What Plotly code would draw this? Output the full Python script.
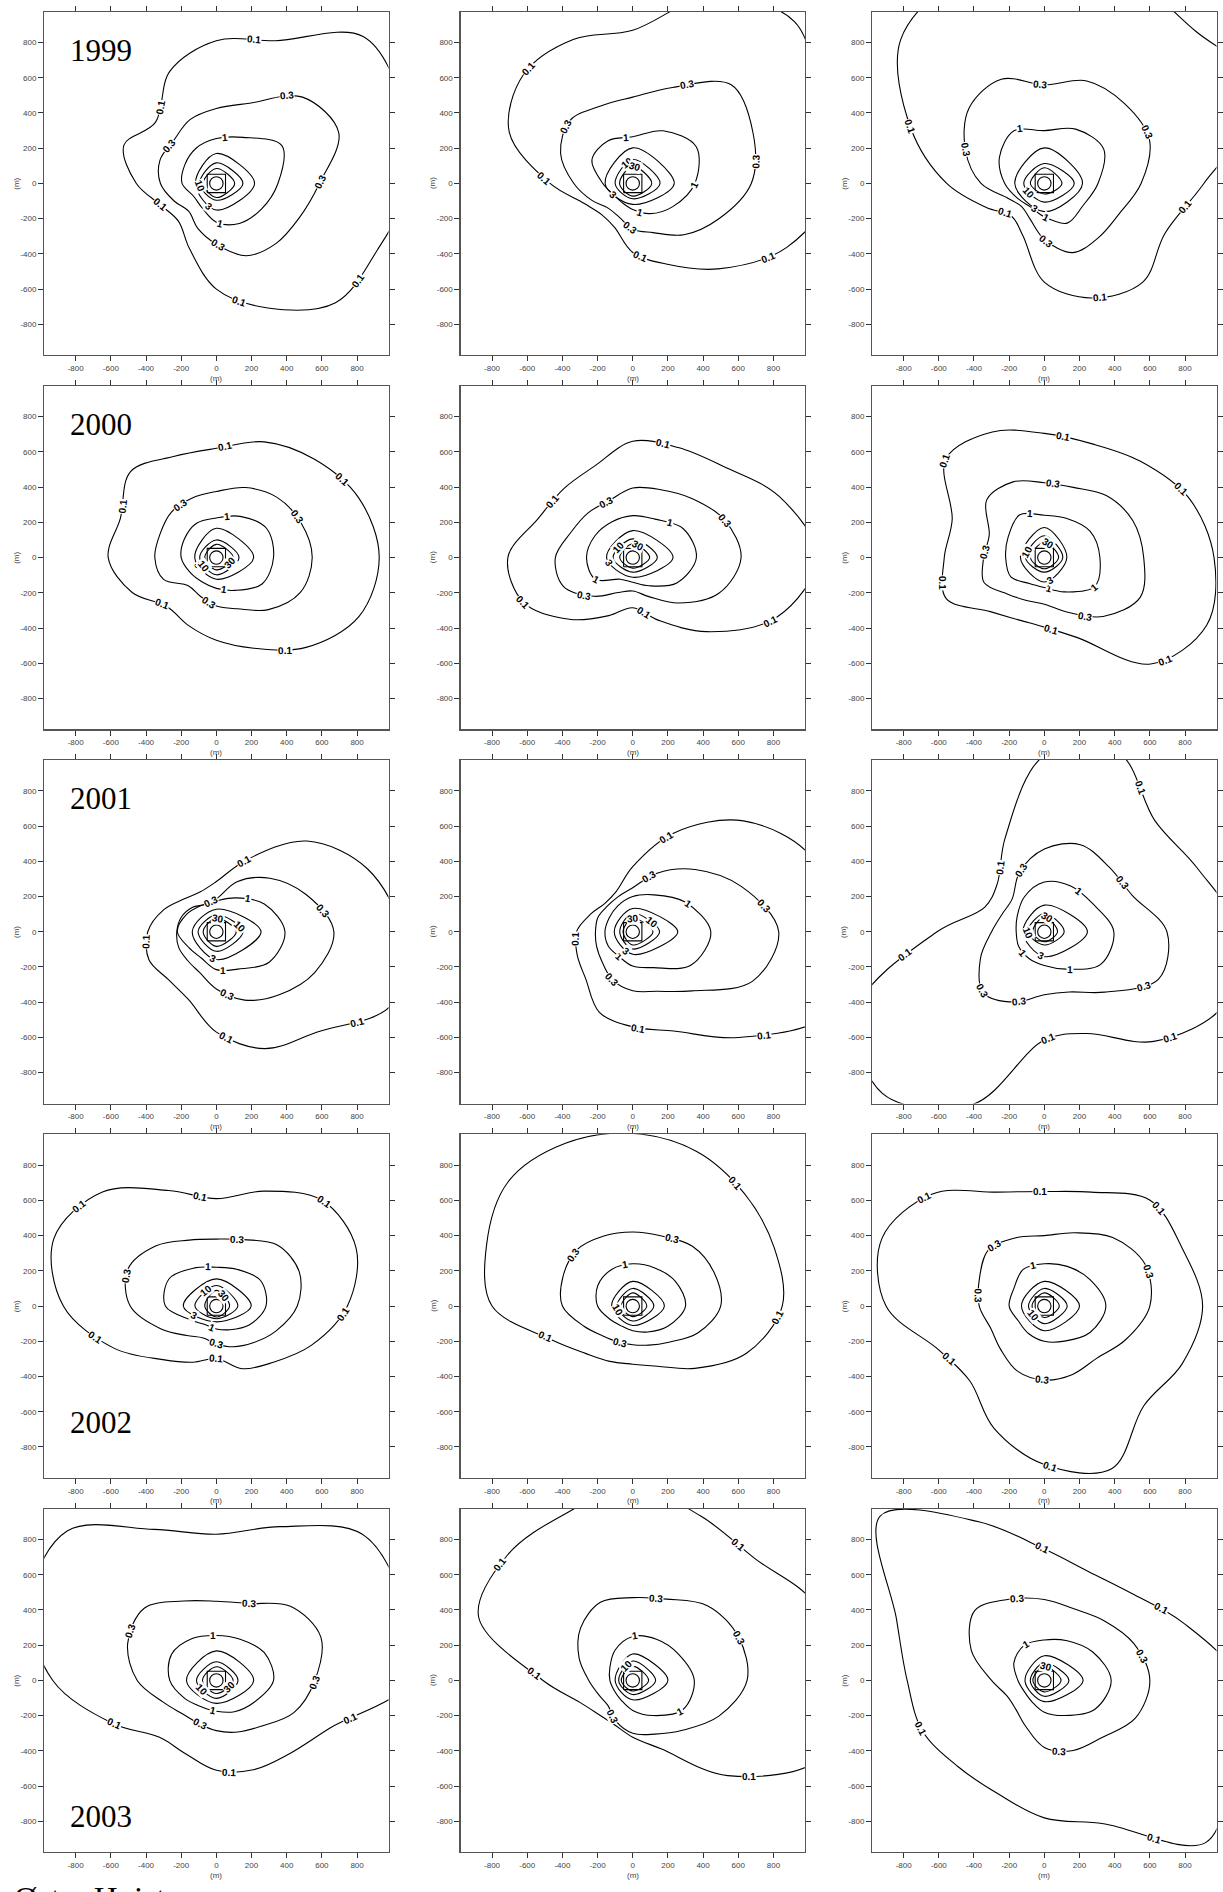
import math
import plotly.graph_objects as go

# ---------------- data ----------------
LEVELS = ["0.1", "0.3", "1", "3", "10", "30"]
YEARS = ["1999", "2000", "2001", "2002", "2003"]
TICK_VALUES = [-800, -600, -400, -200, 0, 200, 400, 600, 800]
TICK_TEXT = ["-800", "-600", "-400", "-200", "0", "200", "400", "600", "800"]
AXIS_UNIT = "(m)"
BOTTOM_TEXT = "Østre Hoist"
SOURCE_HALF_M = 52
CORE_RING_M = [38, 38, 38, 38, 38, 38, 38, 38]

# Contour radii (m) measured from the source, evenly spaced angles starting east, counter-clockwise
# Row 1999
A_01 = [1100, 1150, 1180, 877, 810, 690, 490, 569, 455, 335, 304, 400, 600, 765, 958, 990]
A_03 = [586, 753, 693, 493, 425, 392, 344, 347, 318, 260, 223, 276, 345, 444, 481, 510]
A_1 = [350, 430, 302, 255, 231, 208, 195, 148, 161, 220, 262, 294]
A_3 = [217, 170, 119, 151]
A_10 = [151, 117, 95, 95]
A_30 = [104, 85, 75, 80]
A_LABELS = [("0.1", 75), ("0.1", 128), ("0.1", 201), ("0.1", 281), ("0.1", 326), ("0.3", 52), ("0.3", 141),
            ("0.3", 1), ("0.3", 271), ("1", 80), ("1", 275), ("3", 246), ("10", 193)]

B_01 = [1150, 1150, 1300, 1150, 870, 885, 877, 760, 470, 298, 250, 270, 392, 495, 686, 948]
B_03 = [674, 741, 792, 590, 490, 476, 505, 444, 335, 251, 198, 205, 260, 302, 412, 528]
B_1 = [353, 417, 345, 265, 280, 268, 170, 127, 124, 148, 198, 263]
B_3 = [236, 202, 157, 119]
B_10 = [155, 136, 100, 87]
B_30 = [108, 98, 75, 72]
B_LABELS = [("0.1", 132), ("0.1", 177), ("0.1", 276), ("0.1", 331), ("0.3", 62), ("0.3", 140), ("0.3", 10),
            ("0.3", 266), ("1", 98), ("1", 359), ("1", 283), ("10", 111), ("30", 80), ("3", 217)]

C_01 = [907, 1350, 1220, 1250, 1150, 1250, 1155, 822, 555, 357, 263, 320, 560, 704, 792, 742]
C_03 = [550, 647, 643, 630, 560, 640, 605, 485, 360, 222, 184, 216, 318, 425, 435, 458]
C_1 = [305, 390, 356, 300, 345, 295, 225, 173, 155, 190, 260, 253]
C_3 = [217, 202, 168, 160]
C_10 = [170, 113, 117, 106]
C_30 = [100, 89, 79, 60]
C_LABELS = [("0.1", 157), ("0.1", 218), ("0.1", 296), ("0.1", 350), ("0.3", 92), ("0.3", 27), ("0.3", 157),
            ("0.3", 272), ("1", 113), ("1", 272), ("10", 215), ("3", 246)]

# Row 2000
D_01 = [926, 878, 789, 711, 620, 622, 690, 590, 615, 518, 395, 417, 470, 557, 721, 877]
D_03 = [545, 520, 485, 430, 375, 365, 363, 347, 350, 325, 226, 238, 275, 315, 418, 517]
D_1 = [325, 330, 270, 225, 225, 210, 200, 171, 160, 175, 215, 300]
D_3 = [212, 166, 123, 123]
D_10 = [129, 100, 95, 98]
D_30 = [95, 75, 66, 70]
D_LABELS = [("0.1", 86), ("0.1", 32), ("0.1", 152), ("0.1", 221), ("0.1", 306), ("0.3", 125), ("0.3", 27),
            ("0.3", 260), ("1", 76), ("1", 282), ("3", 205), ("10", 217), ("30", 331)]

E_01 = [1050, 903, 731, 676, 660, 563, 554, 581, 710, 670, 497, 357, 285, 386, 595, 886]
E_03 = [616, 563, 475, 417, 395, 350, 359, 379, 440, 427, 311, 215, 190, 240, 365, 530]
E_1 = [362, 330, 252, 238, 235, 248, 263, 246, 142, 140, 185, 289]
E_3 = [229, 153, 149, 112]
E_10 = [140, 106, 112, 83]
E_30 = [96, 78, 74, 60]
E_LABELS = [("0.1", 75), ("0.1", 145), ("0.1", 202), ("0.1", 280), ("0.1", 335), ("0.3", 116), ("0.3", 22),
            ("0.3", 218), ("1", 45), ("1", 211), ("10", 141), ("30", 66), ("3", 199)]

F_01 = [965, 888, 773, 700, 705, 772, 792, 567, 569, 605, 434, 383, 395, 492, 855, 1000]
F_03 = [565, 545, 498, 431, 425, 465, 463, 339, 345, 371, 294, 264, 265, 335, 473, 590]
F_1 = [316, 300, 256, 240, 280, 237, 220, 220, 170, 170, 225, 330]
F_3 = [128, 171, 136, 139]
F_10 = [105, 124, 107, 83]
F_30 = [81, 87, 79, 64]
F_LABELS = [("0.1", 81), ("0.1", 27), ("0.1", 136), ("0.1", 193), ("0.1", 275), ("0.1", 320), ("0.3", 83),
            ("0.3", 175), ("0.3", 304), ("1", 107), ("1", 329), ("1", 278), ("10", 158), ("30", 70), ("3", 288)]

# Row 2001
G_01 = [1050, 931, 728, 440, 285, 244, 262, 325, 390, 415, 385, 416, 570, 718, 806, 1080]
G_03 = [668, 552, 430, 307, 186, 168, 195, 216, 225, 232, 231, 250, 325, 420, 505, 605]
G_1 = [390, 315, 222, 175, 172, 196, 222, 180, 172, 215, 245, 346]
G_3 = [254, 128, 137, 158]
G_10 = [151, 96, 104, 111]
G_30 = [113, 77, 75, 83]
G_LABELS = [("0.1", 69), ("0.1", 188), ("0.1", 275), ("0.1", 326), ("0.3", 100), ("0.3", 12), ("0.3", 279),
            ("1", 47), ("1", 280), ("30", 82), ("10", 23), ("3", 259)]

H_01 = [1080, 1100, 890, 606, 370, 247, 226, 260, 320, 342, 378, 495, 540, 610, 849, 1200]
H_03 = [830, 670, 500, 360, 250, 216, 205, 214, 212, 222, 245, 297, 335, 366, 475, 736]
H_1 = [444, 340, 242, 200, 170, 155, 158, 161, 160, 195, 235, 381]
H_3 = [256, 132, 105, 128]
H_10 = [153, 104, 74, 98]
H_30 = [115, 75, 55, 75]
H_LABELS = [("0.1", 71), ("0.1", 187), ("0.1", 273), ("0.1", 321), ("0.3", 74), ("0.3", 12), ("0.3", 246),
            ("1", 27), ("1", 241), ("30", 88), ("10", 36), ("3", 248)]

I_01 = [1100, 942, 890, 1100, 1000, 580, 380, 366, 610, 1150, 1300, 1060, 615, 625, 880, 1100]
I_03 = [697, 541, 520, 535, 470, 367, 260, 260, 300, 393, 490, 432, 358, 370, 485, 703]
I_1 = [395, 318, 300, 282, 228, 178, 160, 168, 175, 192, 245, 370]
I_3 = [245, 151, 122, 141]
I_10 = [113, 104, 94, 75]
I_30 = [75, 85, 66, 57]
I_LABELS = [("0.1", 126), ("0.1", 188), ("0.1", 55), ("0.1", 272), ("0.1", 320), ("0.3", 111), ("0.3", 32),
            ("0.3", 223), ("0.3", 250), ("0.3", 330), ("1", 49), ("1", 225), ("1", 304), ("30", 72),
            ("10", 189), ("3", 258)]

# Row 2002
J_01 = [745, 860, 849, 706, 610, 710, 916, 1000, 870, 628, 430, 345, 298, 385, 453, 584]
J_03 = [460, 510, 490, 408, 380, 405, 484, 545, 490, 340, 237, 196, 215, 250, 295, 368]
J_1 = [282, 290, 240, 220, 250, 310, 290, 162, 123, 130, 155, 215]
J_3 = [198, 154, 188, 90]
J_10 = [122, 117, 122, 72]
J_30 = [75, 89, 66, 62]
J_LABELS = [("0.1", 144), ("0.1", 98), ("0.1", 44), ("0.1", 356), ("0.1", 270), ("0.1", 195), ("0.3", 73),
            ("0.3", 162), ("0.3", 270), ("1", 102), ("1", 257), ("10", 124), ("30", 47), ("3", 220)]

K_01 = [850, 870, 900, 950, 980, 1000, 1000, 900, 800, 500, 380, 340, 330, 370, 500, 700]
K_03 = [500, 500, 480, 430, 420, 430, 450, 430, 400, 300, 240, 220, 220, 240, 290, 400]
K_1 = [300, 280, 250, 240, 240, 230, 200, 150, 130, 140, 170, 230]
K_3 = [180, 140, 120, 110]
K_10 = [120, 100, 90, 85]
K_30 = [80, 75, 65, 60]
K_LABELS = [("0.1", 50), ("0.1", 355), ("0.1", 200), ("0.3", 140), ("0.3", 60), ("0.3", 250), ("1", 100),
            ("10", 200)]

L_01 = [900, 850, 850, 700, 650, 700, 900, 1000, 900, 650, 600, 750, 900, 1000, 800, 850]
L_03 = [600, 620, 550, 450, 400, 420, 450, 400, 370, 330, 350, 400, 420, 420, 420, 500]
L_1 = [350, 300, 260, 240, 240, 200, 200, 170, 180, 200, 230, 300]
L_3 = [200, 140, 130, 140]
L_10 = [130, 100, 90, 100]
L_30 = [85, 75, 70, 65]
L_LABELS = [("0.1", 138), ("0.1", 92), ("0.1", 40), ("0.1", 209), ("0.1", 272), ("0.3", 129), ("0.3", 18),
            ("0.3", 171), ("0.3", 268), ("1", 105), ("10", 220)]

# Row 2003
M_01 = [1100, 1150, 1174, 945, 830, 928, 1200, 1150, 930, 637, 457, 452, 510, 549, 588, 702]
M_03 = [560, 643, 595, 473, 450, 488, 580, 546, 450, 325, 270, 264, 285, 317, 366, 477]
M_1 = [325, 315, 270, 255, 275, 295, 265, 206, 172, 175, 205, 248]
M_3 = [212, 168, 170, 130]
M_10 = [123, 106, 113, 102]
M_30 = [95, 78, 79, 74]
M_LABELS = [("0.1", 203), ("0.1", 278), ("0.1", 343), ("0.3", 67), ("0.3", 150), ("0.3", 249), ("0.3", 359),
            ("1", 94), ("1", 264), ("10", 216), ("30", 328)]

N_01 = [1100, 1120, 980, 1010, 1100, 1020, 1007, 949, 510, 325, 273, 272, 322, 420, 764, 1150]
N_03 = [650, 650, 600, 500, 470, 480, 420, 330, 250, 210, 200, 250, 300, 330, 400, 530]
N_1 = [350, 300, 270, 250, 200, 150, 130, 120, 130, 170, 230, 330]
N_3 = [200, 150, 100, 110]
N_10 = [130, 110, 80, 80]
N_30 = [90, 80, 65, 60]
N_LABELS = [("0.1", 139), ("0.1", 177), ("0.1", 52), ("0.1", 320), ("0.3", 74), ("0.3", 22), ("0.3", 240),
            ("1", 87), ("1", 326), ("10", 120)]

O_01 = [1100, 855, 700, 667, 746, 975, 1320, 910, 780, 750, 693, 695, 780, 880, 1300, 1150]
O_03 = [600, 550, 480, 440, 460, 500, 560, 450, 300, 230, 230, 280, 380, 430, 460, 560]
O_1 = [380, 320, 260, 230, 230, 200, 150, 130, 140, 180, 230, 330]
O_3 = [220, 140, 110, 120]
O_10 = [140, 100, 80, 90]
O_30 = [95, 80, 65, 65]
O_LABELS = [("0.1", 91), ("0.1", 32), ("0.1", 201), ("0.1", 303), ("0.3", 108), ("0.3", 14), ("0.3", 282),
            ("1", 117), ("30", 80)]

PANELS = [
    ([A_01, A_03, A_1, A_3, A_10, A_30], A_LABELS, 0),
    ([B_01, B_03, B_1, B_3, B_10, B_30], B_LABELS, None),
    ([C_01, C_03, C_1, C_3, C_10, C_30], C_LABELS, None),
    ([D_01, D_03, D_1, D_3, D_10, D_30], D_LABELS, 1),
    ([E_01, E_03, E_1, E_3, E_10, E_30], E_LABELS, None),
    ([F_01, F_03, F_1, F_3, F_10, F_30], F_LABELS, None),
    ([G_01, G_03, G_1, G_3, G_10, G_30], G_LABELS, 2),
    ([H_01, H_03, H_1, H_3, H_10, H_30], H_LABELS, None),
    ([I_01, I_03, I_1, I_3, I_10, I_30], I_LABELS, None),
    ([J_01, J_03, J_1, J_3, J_10, J_30], J_LABELS, 3),
    ([K_01, K_03, K_1, K_3, K_10, K_30], K_LABELS, None),
    ([L_01, L_03, L_1, L_3, L_10, L_30], L_LABELS, None),
    ([M_01, M_03, M_1, M_3, M_10, M_30], M_LABELS, 4),
    ([N_01, N_03, N_1, N_3, N_10, N_30], N_LABELS, None),
    ([O_01, O_03, O_1, O_3, O_10, O_30], O_LABELS, None),
]

# ---------------- layout constants ----------------
W, H = 1223, 1892
COL_LEFT = [44.3, 461.7, 874.3]
ROW_TOP = [11.7, 385.8, 760.0, 1134.3, 1508.7]
BOX_W, BOX_H = 345.2, 343.5
XLIM = 979
YLIM = 975
YEAR_Y = [757, 757, 757, -662, -775]


def ring_xy(radii):
    n = len(radii)
    return [(r * math.cos(2 * math.pi * k / n), r * math.sin(2 * math.pi * k / n)) for k, r in enumerate(radii)]


def make_tangent(prev, this, nxt, s=1.0):
    d1x, d1y = prev[0] - this[0], prev[1] - this[1]
    d2x, d2y = nxt[0] - this[0], nxt[1] - this[1]
    d1a = (d1x * d1x + d1y * d1y) ** 0.25
    d2a = (d2x * d2x + d2y * d2y) ** 0.25
    numx = (d2a * d2a * d1x - d1a * d1a * d2x) * s
    numy = (d2a * d2a * d1y - d1a * d1a * d2y) * s
    den1 = 3 * d2a * (d1a + d2a)
    den2 = 3 * d1a * (d1a + d2a)
    before = (this[0] + (numx / den1 if den1 else 0), this[1] + (numy / den1 if den1 else 0))
    after = (this[0] - (numx / den2 if den2 else 0), this[1] - (numy / den2 if den2 else 0))
    return before, after


def point_on_ring(radii, angle_deg):
    pts = ring_xy(radii)
    n = len(pts)
    step = 360.0 / n
    a = angle_deg % 360.0
    i = int(a // step) % n
    t = (a - i * step) / step
    j = (i + 1) % n
    ti = make_tangent(pts[i - 1], pts[i], pts[j])
    tj = make_tangent(pts[i], pts[j], pts[(j + 1) % n])
    p0, p1, p2, p3 = pts[i], ti[1], tj[0], pts[j]
    u = 1 - t
    x = u ** 3 * p0[0] + 3 * u * u * t * p1[0] + 3 * u * t * t * p2[0] + t ** 3 * p3[0]
    y = u ** 3 * p0[1] + 3 * u * u * t * p1[1] + 3 * u * t * t * p2[1] + t ** 3 * p3[1]
    dx = 3 * u * u * (p1[0] - p0[0]) + 6 * u * t * (p2[0] - p1[0]) + 3 * t * t * (p3[0] - p2[0])
    dy = 3 * u * u * (p1[1] - p0[1]) + 6 * u * t * (p2[1] - p1[1]) + 3 * t * t * (p3[1] - p2[1])
    ang = math.degrees(math.atan2(-dy, dx))
    if ang > 90:
        ang -= 180
    if ang < -90:
        ang += 180
    return x, y, ang


fig = go.Figure()
annotations = []
layout = {}
line_style = dict(color="black", width=1.1, shape="spline", smoothing=1, simplify=False)
LABEL_FONT = dict(family="Liberation Sans, Arial", size=10, color="black", weight="bold")

for idx, (rings, labels, year_idx) in enumerate(PANELS):
    r, c = divmod(idx, 3)
    n = idx + 1
    xa = "x" if n == 1 else f"x{n}"
    ya = "y" if n == 1 else f"y{n}"
    left, top = COL_LEFT[c], ROW_TOP[r]
    axis_common = dict(
        showgrid=False, zeroline=False, showline=True, linecolor="#555", linewidth=1.2, mirror="ticks",
        ticks="outside", ticklen=5, tickwidth=1, tickcolor="#333", tickvals=TICK_VALUES, ticktext=TICK_TEXT,
        tickfont=dict(family="Liberation Sans, Arial", size=8, color="#444"), fixedrange=True,
    )
    layout["xaxis" if n == 1 else f"xaxis{n}"] = dict(
        domain=[left / W, (left + BOX_W) / W], range=[-XLIM, XLIM], anchor=ya, **axis_common)
    layout["yaxis" if n == 1 else f"yaxis{n}"] = dict(
        domain=[1 - (top + BOX_H) / H, 1 - top / H], range=[-YLIM, YLIM], anchor=xa, **axis_common)

    for radii in rings + [CORE_RING_M]:
        pts = ring_xy(radii)
        xs = [p[0] for p in pts] + [pts[0][0]]
        ys = [p[1] for p in pts] + [pts[0][1]]
        fig.add_trace(go.Scatter(x=xs, y=ys, mode="lines", line=line_style, xaxis=xa, yaxis=ya,
                                 hoverinfo="skip", showlegend=False))
    # source square
    h = SOURCE_HALF_M
    fig.add_trace(go.Scatter(x=[-h, h, h, -h, -h], y=[-h, -h, h, h, -h], mode="lines",
                             line=dict(color="black", width=1.1), xaxis=xa, yaxis=ya,
                             hoverinfo="skip", showlegend=False))

    for lvl, ang in labels:
        radii = rings[LEVELS.index(lvl)]
        x, y, ta = point_on_ring(radii, ang)
        annotations.append(dict(
            x=x, y=y, xref=xa, yref=ya, text="<b>" + lvl + "</b>", showarrow=False, textangle=ta,
            font=LABEL_FONT, bgcolor="white", borderpad=0, xanchor="center", yanchor="middle"))

    # axis titles
    annotations.append(dict(
        x=(left + BOX_W / 2) / W, y=1 - (top + BOX_H + 23) / H, xref="paper", yref="paper",
        text=AXIS_UNIT, showarrow=False, font=dict(family="Liberation Sans, Arial", size=8, color="#444"),
        xanchor="center", yanchor="middle"))
    annotations.append(dict(
        x=(left - 28) / W, y=1 - (top + BOX_H / 2) / H, xref="paper", yref="paper",
        text=AXIS_UNIT, showarrow=False, textangle=-90,
        font=dict(family="Liberation Sans, Arial", size=8, color="#444"),
        xanchor="center", yanchor="middle"))

    if year_idx is not None:
        annotations.append(dict(
            x=-845, y=YEAR_Y[year_idx], xref=xa, yref=ya, text=YEARS[year_idx], showarrow=False,
            font=dict(family="Liberation Serif, Times New Roman", size=31, color="black"),
            xanchor="left", yanchor="middle"))

annotations.append(dict(
    x=12 / W, y=1 - 1879 / H, xref="paper", yref="paper", text=BOTTOM_TEXT, showarrow=False,
    font=dict(family="Liberation Serif, Times New Roman", size=33, color="black"),
    xanchor="left", yanchor="top"))

fig.update_layout(
    width=W, height=H, margin=dict(l=0, r=0, t=0, b=0), paper_bgcolor="white", plot_bgcolor="white",
    showlegend=False, annotations=annotations, **layout)

fig.write_html("out.html", config={"displayModeBar": False, "staticPlot": True},
               post_script="document.body.style.margin='0';document.body.style.overflow='hidden';")
